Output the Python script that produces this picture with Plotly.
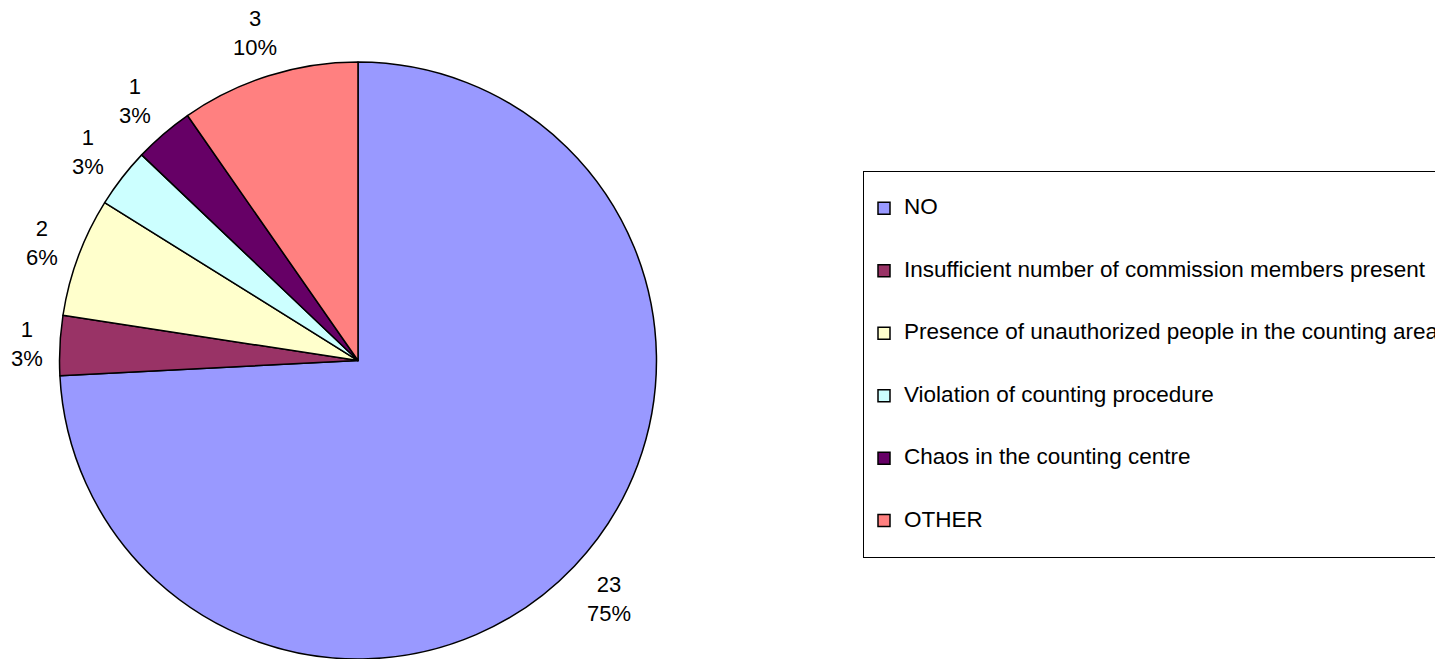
import math
import plotly.graph_objects as go

categories = [
    "NO",
    "Insufficient number of commission members present",
    "Presence of unauthorized people in the counting area",
    "Violation of counting procedure",
    "Chaos in the counting centre",
    "OTHER",
]
counts = [23, 1, 2, 1, 1, 3]
percent_labels = ["75%", "3%", "6%", "3%", "3%", "10%"]
colors = ["#9999FF", "#993366", "#FFFFCC", "#CCFFFF", "#660066", "#FF8080"]

FONT = "Arial, 'Liberation Sans', sans-serif"
LABEL_SIZE = 22

# page body has an 8px margin, so the figure fills the rest of the window
W, H = 1435, 651
PIE_X = [0.0348, 0.4530]
PIE_Y = [0.0, 0.917]

legend_labels = [
    " <br><span style='font-size:22.5px'>%s</span><br> " % c for c in categories
]

fig = go.Figure(
    go.Pie(
        labels=legend_labels,
        values=counts,
        textinfo="none",
        marker=dict(colors=colors, line=dict(color="#000000", width=1.5)),
        sort=False,
        direction="clockwise",
        rotation=0,
        domain=dict(x=PIE_X, y=PIE_Y),
        hoverinfo="skip",
    )
)

# Excel-style outside data labels, placed along each slice's mid-angle
cx = (PIE_X[0] + PIE_X[1]) / 2 * W
cy_from_bottom = (PIE_Y[0] + PIE_Y[1]) / 2 * H
r = min((PIE_X[1] - PIE_X[0]) * W, (PIE_Y[1] - PIE_Y[0]) * H) / 2
total = sum(counts)
char_w = {"%": 0.889}
gap = 16
cum = 0.0
for n, p in zip(counts, percent_labels):
    mid = (cum + n / 2) / total * 2 * math.pi
    cum += n
    dx, dy = math.sin(mid), math.cos(mid)  # dy upward
    lines = [str(n), p]
    w = max(sum(char_w.get(ch, 0.556) for ch in ln) for ln in lines) * LABEL_SIZE
    h = 46
    d = r + gap + abs(dx) * w / 2 + abs(dy) * h / 2
    px = cx + dx * d
    py = cy_from_bottom + dy * d
    fig.add_annotation(
        x=px / W,
        y=py / H,
        xref="paper",
        yref="paper",
        text="<br>".join(lines),
        showarrow=False,
        xanchor="center",
        yanchor="middle",
        align="center",
        font=dict(family=FONT, size=LABEL_SIZE, color="#000000"),
    )

fig.update_layout(
    width=W,
    height=H,
    margin=dict(l=0, r=0, t=0, b=0, autoexpand=False),
    paper_bgcolor="#FFFFFF",
    plot_bgcolor="#FFFFFF",
    font=dict(family=FONT, color="#000000"),
    showlegend=True,
    legend=dict(
        x=855 / W,
        y=1 - 163 / H,
        xanchor="left",
        yanchor="top",
        bordercolor="#000000",
        borderwidth=1,
        bgcolor="#FFFFFF",
        font=dict(family=FONT, size=15.25, color="#000000"),
        valign="middle",
        traceorder="normal",
    ),
)

fig.write_html("out.html")
